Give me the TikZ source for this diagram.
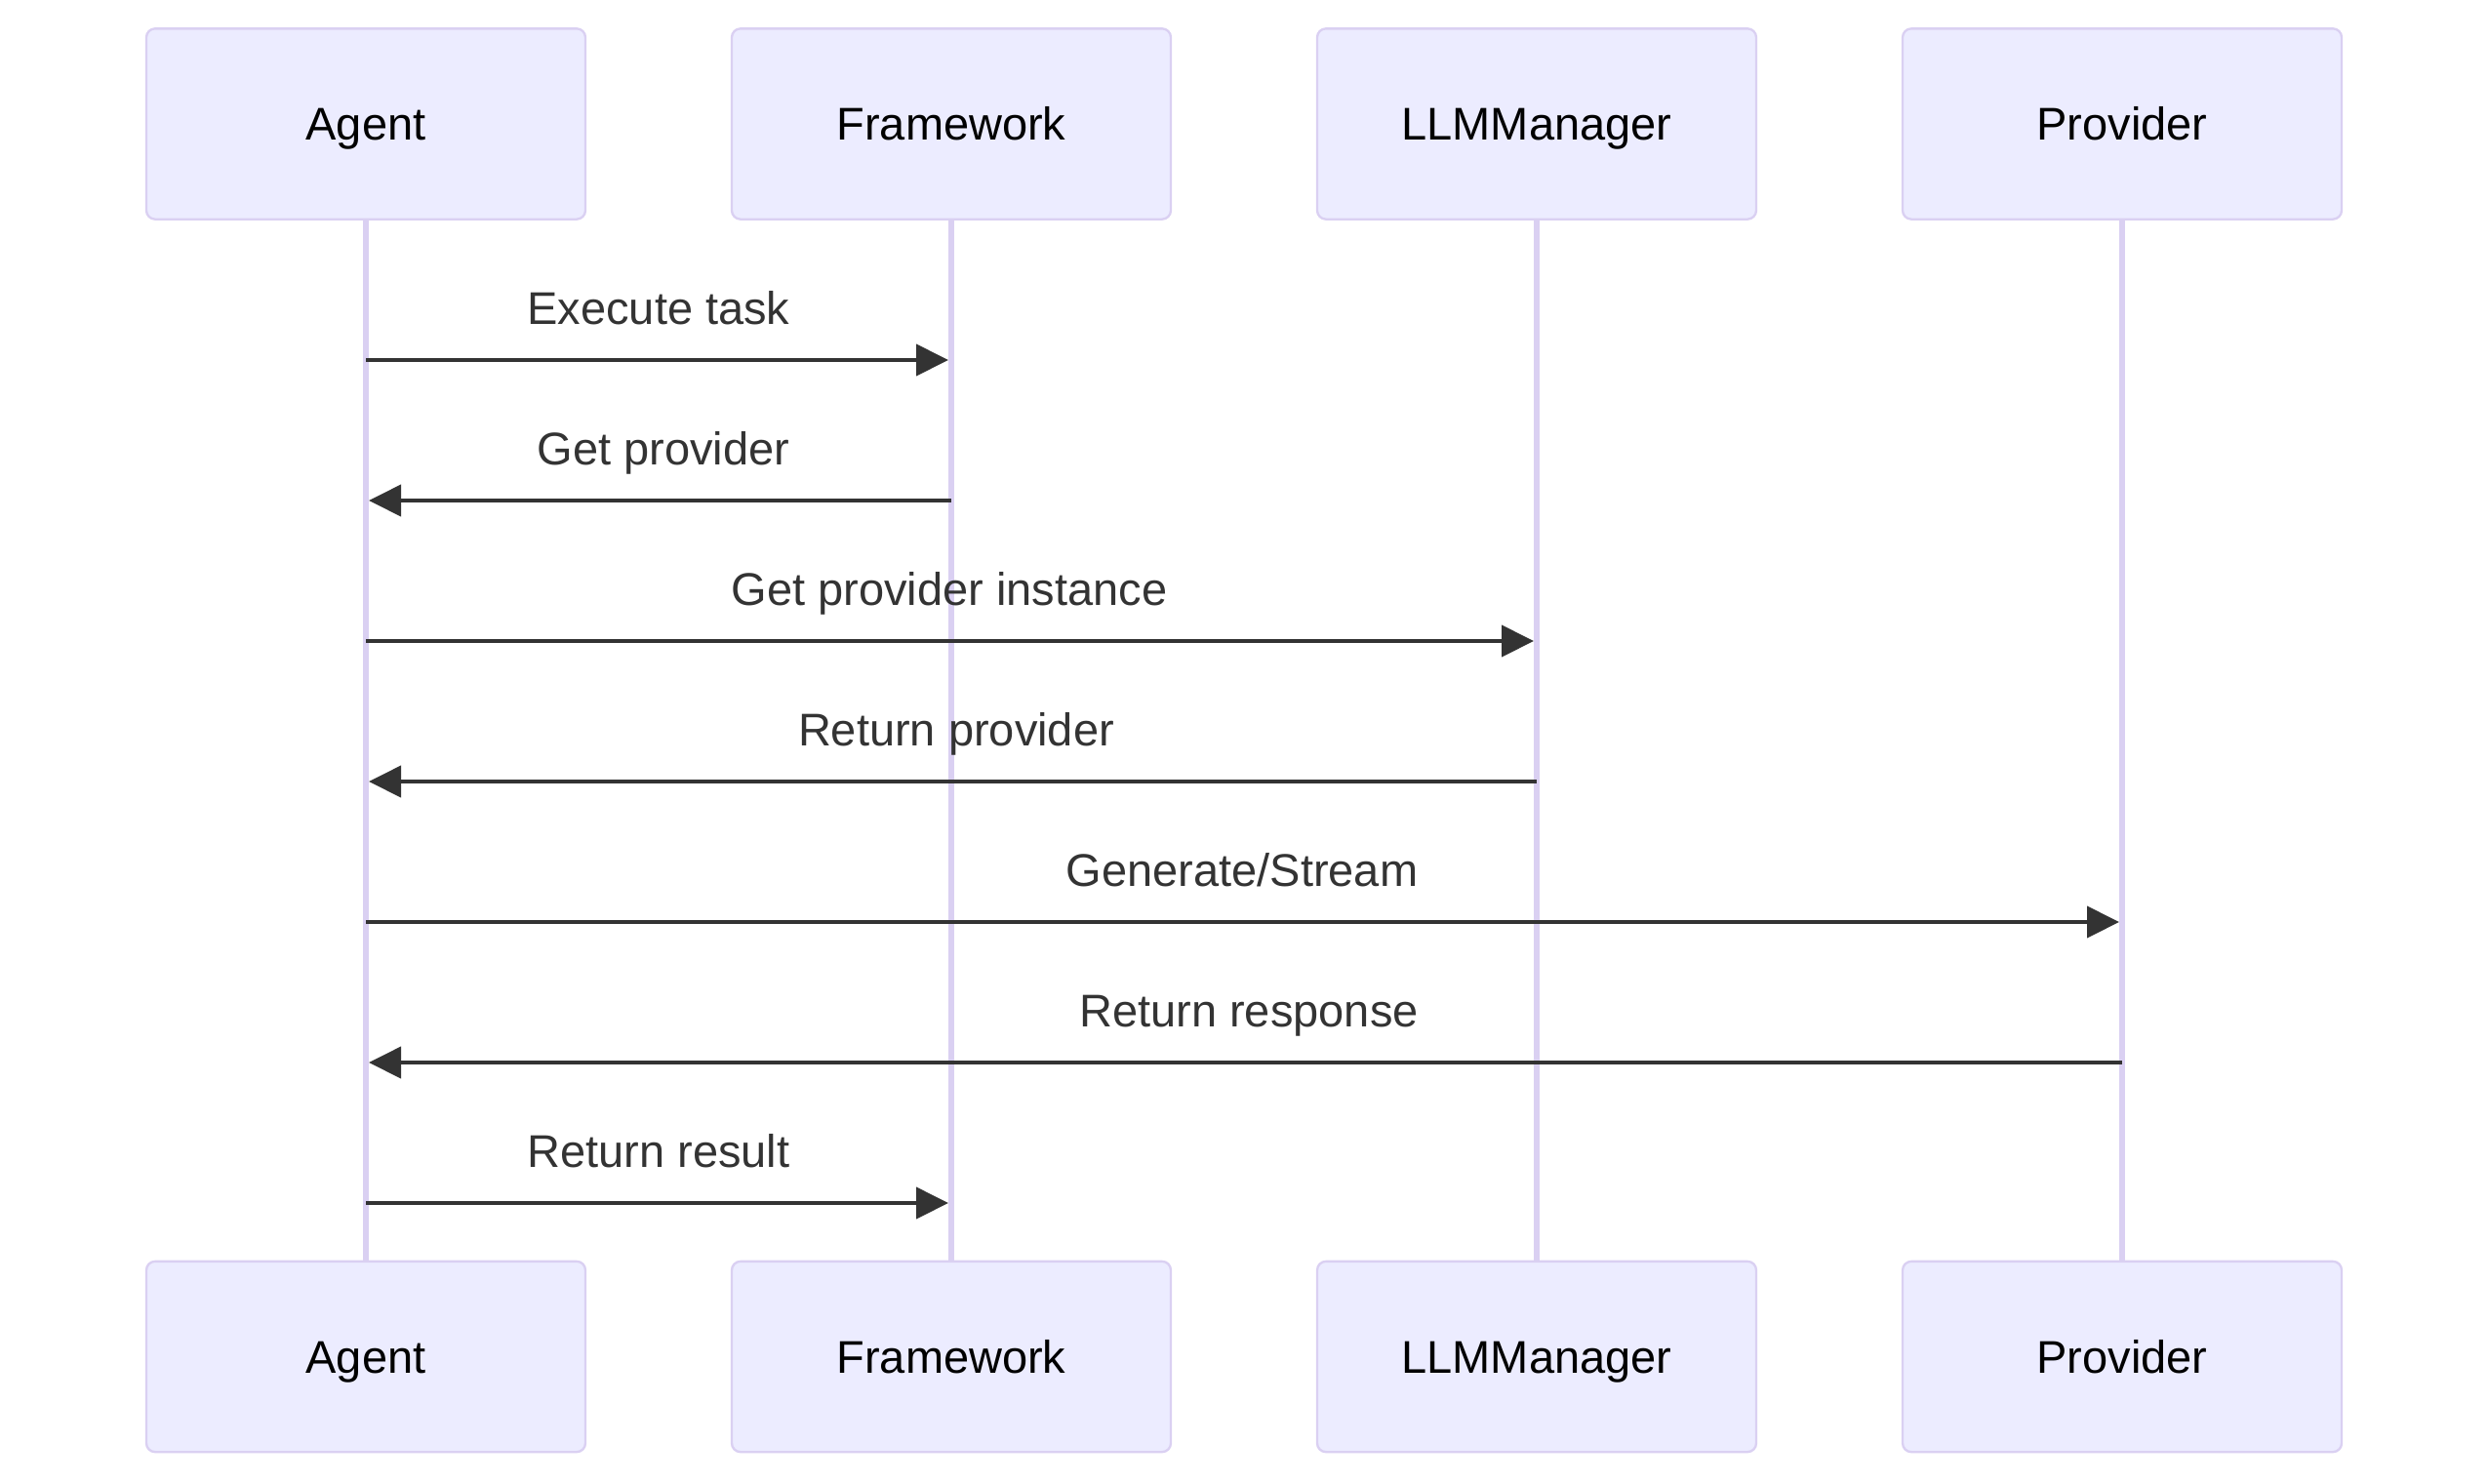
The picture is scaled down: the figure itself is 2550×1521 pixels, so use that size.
\documentclass[tikz,border=0pt]{standalone}
\usepackage{fontspec}
\setmainfont{Liberation Sans}
\usetikzlibrary{arrows.meta}
\definecolor{actfill}{HTML}{ECECFF}
\definecolor{actline}{HTML}{DAD0F2}
\definecolor{msgcol}{HTML}{333333}
\begin{document}
\begin{tikzpicture}[x=0.3pt,y=-0.3pt,
  actor/.style={draw=actline,fill=actfill,line width=0.7pt,rounded corners=2.7pt,
    minimum width=135pt,minimum height=58.6pt,inner sep=0pt,
    text height=10pt,text depth=0pt,font=\fontsize{14.1}{16}\selectfont,text=black},
  lifeline/.style={draw=actline,line width=1.8pt},
  msgline/.style={draw=msgcol,line width=1.2pt,-{Triangle[length=9.9pt,width=9.6pt]},shorten >=0.9pt},
  msglabel/.style={anchor=base,font=\fontsize{14.1}{16}\selectfont,text=msgcol,inner sep=0pt}]
\useasboundingbox (0,0) rectangle (2550,1521);

% actors (top)
\node[actor] (At) at (375,127) {Agent};
\node[actor] (Ft) at (975,127) {Framework};
\node[actor] (Lt) at (1575,127) {LLMManager};
\node[actor] (Pt) at (2175,127) {Provider};
% actors (bottom)
\node[actor] (Ab) at (375,1390.5) {Agent};
\node[actor] (Fb) at (975,1390.5) {Framework};
\node[actor] (Lb) at (1575,1390.5) {LLMManager};
\node[actor] (Pb) at (2175,1390.5) {Provider};

% lifelines
\draw[lifeline] (At.south) -- (Ab.north);
\draw[lifeline] (Ft.south) -- (Fb.north);
\draw[lifeline] (Lt.south) -- (Lb.north);
\draw[lifeline] (Pt.south) -- (Pb.north);

% message anchor points
\coordinate (a1) at (375,369);  \coordinate (f1) at (975,369);
\coordinate (a2) at (375,513);  \coordinate (f2) at (975,513);
\coordinate (a3) at (375,657);  \coordinate (l3) at (1575,657);
\coordinate (a4) at (375,801);  \coordinate (l4) at (1575,801);
\coordinate (a5) at (375,945);  \coordinate (p5) at (2175,945);
\coordinate (a6) at (375,1089); \coordinate (p6) at (2175,1089);
\coordinate (a7) at (375,1233); \coordinate (f7) at (975,1233);

% messages
\draw[msgline] (a1) -- (f1);
\node[msglabel] (t1) at (675,332) {Execute task};
\draw[msgline] (f2) -- (a2);
\node[msglabel] (t2) at (680,476) {Get provider};
\draw[msgline] (a3) -- (l3);
\node[msglabel] (t3) at (973,620) {Get provider instance};
\draw[msgline] (l4) -- (a4);
\node[msglabel] (t4) at (980,764) {Return provider};
\draw[msgline] (a5) -- (p5);
\node[msglabel] (t5) at (1273,908) {Generate/Stream};
\draw[msgline] (p6) -- (a6);
\node[msglabel] (t6) at (1280,1052) {Return response};
\draw[msgline] (a7) -- (f7);
\node[msglabel] (t7) at (675,1196) {Return result};
\end{tikzpicture}
\end{document}
